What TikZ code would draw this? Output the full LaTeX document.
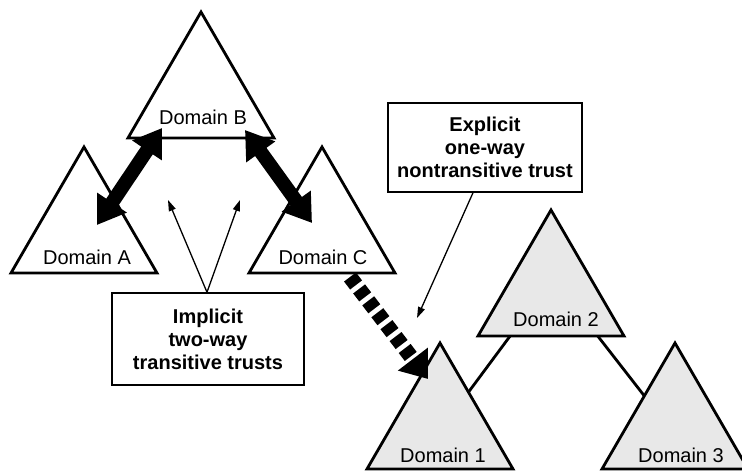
\documentclass[tikz,border=0pt]{standalone}
\usepackage{fontspec}
\setmainfont{Liberation Sans}
\usetikzlibrary{arrows.meta,calc}

% equilateral domain triangle: name, style, apex x, apex y
\newcommand\domaintri[4]{%
  \coordinate (#1-top) at (#3,#4);
  \coordinate (#1-bl) at (#3-73,#4+126);
  \coordinate (#1-br) at (#3+73,#4+126);
  \draw[#2] (#1-top) -- (#1-bl) -- (#1-br) -- cycle;
}

\begin{document}
\begin{tikzpicture}[x=1pt,y=-1pt,
  domaintri/.style={draw=black,line width=2.8pt,line join=miter},
  plain/.style={domaintri,fill=white},
  shaded/.style={domaintri,fill=black!9},
  dlabel/.style={font=\fontsize{20}{24}\selectfont,inner sep=0pt},
  callout/.style={draw=black,line width=1.5pt,fill=white,align=center,
    font=\fontsize{20}{23}\selectfont\bfseries,inner sep=0pt},
  trust/.style={line width=14pt,
    {Triangle[width=34pt,length=27pt]}-{Triangle[width=34pt,length=27pt]}},
  oneway/.style={line width=15pt,dash pattern=on 10pt off 5pt,
    -{Triangle[width=36pt,length=25pt]}},
  pointer/.style={line width=1.3pt,-{Triangle[width=7pt,length=11pt]}},
  link/.style={line width=2.8pt}
]
\useasboundingbox (0,0) rectangle (742,471);

% forest on the left (white domains)
\domaintri{B}{plain}{201}{12}
\domaintri{A}{plain}{84}{147}
\domaintri{C}{plain}{322}{147}

% tree on the right (shaded domains)
\domaintri{D2}{shaded}{551}{210}
\domaintri{D1}{shaded}{440}{343}
\domaintri{D3}{shaded}{675}{343}
\draw[link] ($(D2-bl)!0.22!(D2-br)$) coordinate (l21a) -- ($(D1-top)!0.39!(D1-br)$) coordinate (l21b);
\draw[link] ($(D2-bl)!0.82!(D2-br)$) coordinate (l23a) -- ($(D3-top)!0.42!(D3-bl)$) coordinate (l23b);

% domain labels
\node[dlabel] (lblB) at (203,117) {Domain B};
\node[dlabel] (lblA) at (87,257) {Domain A};
\node[dlabel] (lblC) at (323,257) {Domain C};
\node[dlabel] (lbl2) at (556,319) {Domain 2};
\node[dlabel] (lbl1) at (443,455) {Domain 1};
\node[dlabel] (lbl3) at (681,455) {Domain 3};

% two-way transitive trusts
\coordinate (abA) at (97,225);
\coordinate (abB) at (162,128);
\coordinate (bcB) at (245,130);
\coordinate (bcC) at (312,223);
\draw[trust] (abA) -- (abB);
\draw[trust] (bcB) -- (bcC);

% explicit one-way trust from C to 1
\coordinate (c1C) at (350,277);
\coordinate (c1D) at (428,379);
\draw[oneway] (c1C) -- (c1D);

% callout boxes
\node[callout,minimum width=192pt,minimum height=92pt] (impl) at (208,339)
  {Implicit\\two-way\\transitive trusts};
\node[callout,minimum width=194pt,minimum height=89pt] (expl) at (485,147.5)
  {Explicit\\one-way\\nontransitive trust};

% callout pointers
\coordinate (ptAB) at (168,200);
\coordinate (ptBC) at (240,200);
\coordinate (ptC1) at (417,318);
\draw[pointer] ([xshift=-1pt]impl.north) -- (ptAB);
\draw[pointer] ([xshift=-1pt]impl.north) -- (ptBC);
\draw[pointer] ([xshift=-12pt]expl.south) -- (ptC1);
\end{tikzpicture}
\end{document}
